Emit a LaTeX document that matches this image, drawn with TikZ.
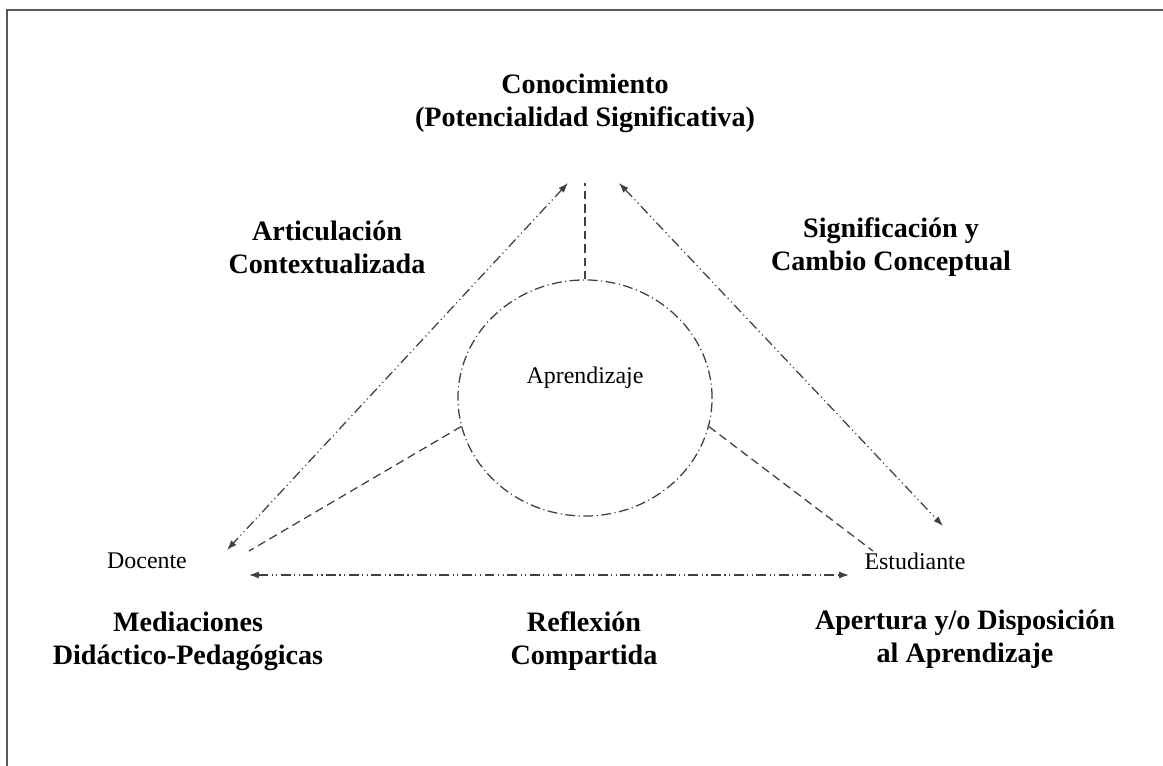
\documentclass[tikz,border=0pt]{standalone}
\usepackage{fontspec}
\setmainfont{Liberation Serif}
\usetikzlibrary{shapes.geometric,arrows.meta}

\tikzset{
  titulo/.style={font=\fontsize{20}{23.5}\selectfont\bfseries, align=center, inner sep=0pt},
  rotulo/.style={font=\fontsize{17}{20}\selectfont, inner sep=0pt},
  raya/.style={draw=black!75, line width=0.9pt, dash pattern=on 6pt off 3.5pt},
  flecha/.style={draw=black!75, line width=0.9pt, {Latex[length=7pt,width=5pt]}-{Latex[length=7pt,width=5pt]},
    dash pattern=on 7pt off 2.5pt on 0.8pt off 2.5pt on 0.8pt off 2.5pt},
  borde/.style={draw=black!65, line width=1.3pt}
}

\begin{document}
\begin{tikzpicture}[x=0.025cm,y=-0.025cm]
\useasboundingbox (0,0) rectangle (1163,766);
\draw[borde] (7,766) -- (7,10) -- (1163,10);

% textos
\node[titulo] (con) at (585,103) {Conocimiento\\(Potencialidad Significativa)};
\node[titulo] (art) at (327,247) {Articulación\\Contextualizada};
\node[titulo] (sig) at (891,247) {Significación y\\Cambio Conceptual};
\node[titulo] (med) at (188,641) {Mediaciones\\Didáctico-Pedagógicas};
\node[titulo] (ref) at (584,641) {Reflexión\\Compartida};
\node[titulo] (ape) at (965,639) {Apertura y/o Disposición\\al Aprendizaje};
\node[rotulo] (doc) at (147,561) {Docente};
\node[rotulo] (est) at (915,561) {Estudiante};

% circulo central
\node[ellipse, draw=black!75, line width=0.9pt, dash pattern=on 7pt off 2.5pt on 0.8pt off 2.5pt,
  minimum width=6.35cm, minimum height=5.9cm] (circ) at (585,398) {};
\node[rotulo] (apr) at (585,378) {Aprendizaje};

% extremos
\coordinate (con-l) at (568,183);
\coordinate (con-m) at (585,183);
\coordinate (con-r) at (619,183);
\coordinate (doc-a) at (227,550);
\coordinate (doc-b) at (249,551);
\coordinate (doc-c) at (249,575);
\coordinate (est-a) at (943,526);
\coordinate (est-b) at (873,551);
\coordinate (est-c) at (849,575);

\draw[flecha] (con-l) -- (doc-a);
\draw[flecha] (con-r) -- (est-a);
\draw[flecha] (doc-c) -- (est-c);
\draw[raya] (circ.north) -- (con-m);
\draw[raya] (circ.193) -- (doc-b);
\draw[raya] (circ.347) -- (est-b);
\end{tikzpicture}
\end{document}
